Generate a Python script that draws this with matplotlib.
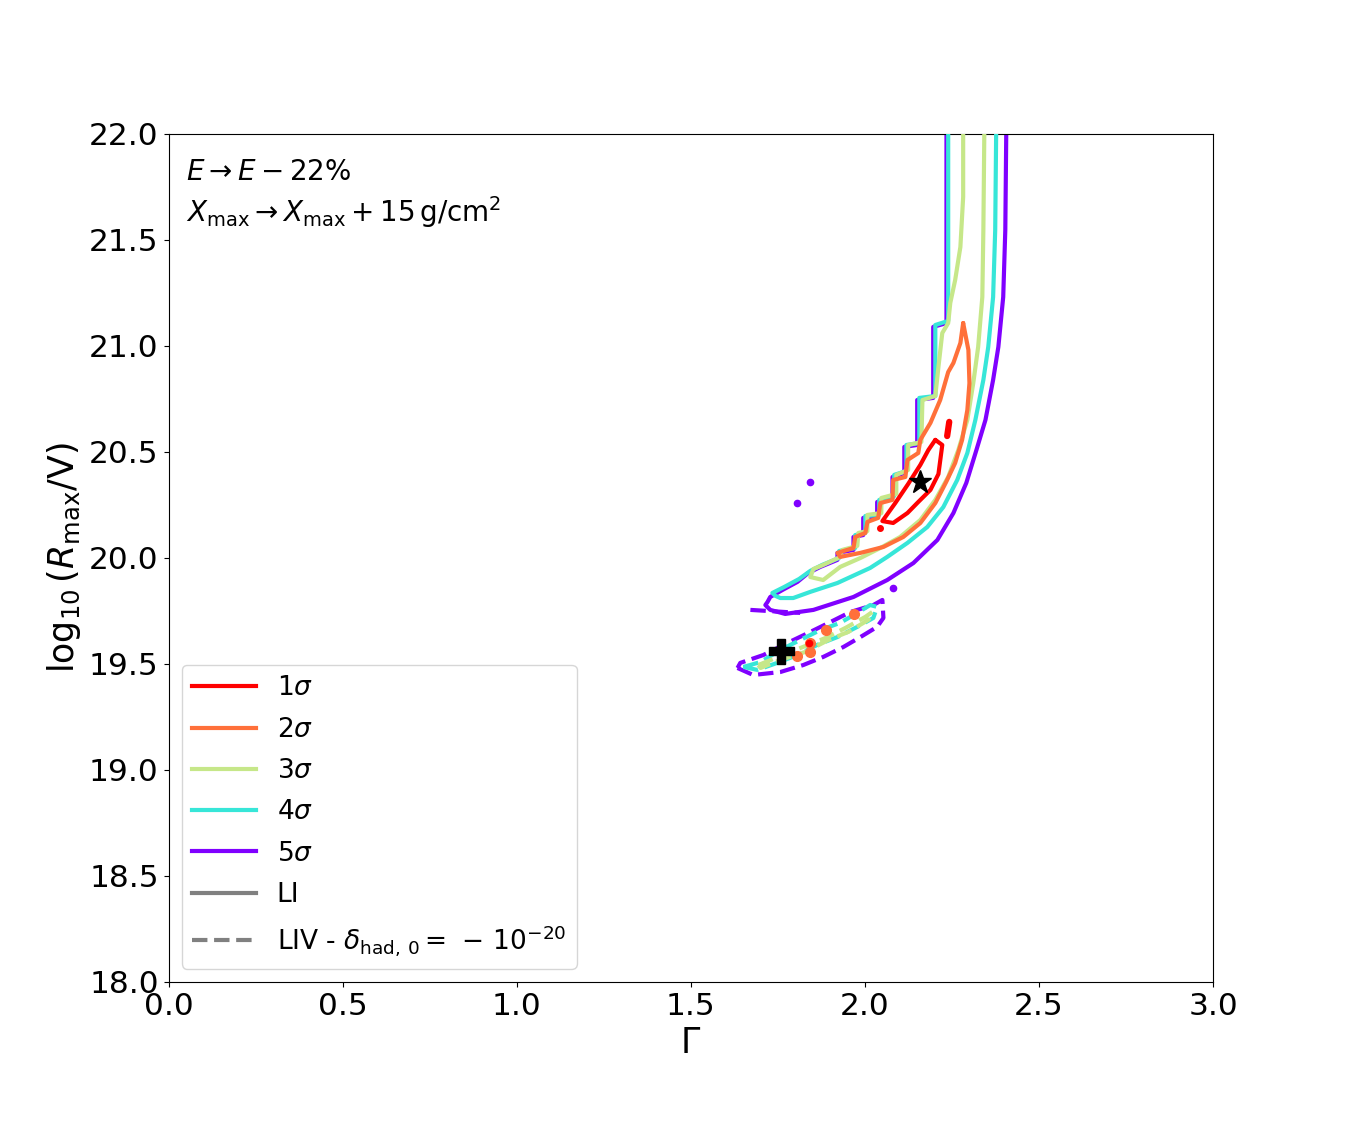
import matplotlib
matplotlib.use("Agg")
import matplotlib.pyplot as plt
from matplotlib.lines import Line2D

# ---------------- data ----------------
sigma_labels = [r"$1\sigma$", r"$2\sigma$", r"$3\sigma$", r"$4\sigma$", r"$5\sigma$"]
delta_chi2 = [2.30, 6.18, 11.83, 19.33, 28.74]

# LI (solid) contours: Gamma, log10(Rmax/V)
li_5s_x = [2.406, 2.403, 2.397, 2.383, 2.368, 2.346, 2.320, 2.291, 2.254, 2.208, 2.139, 2.064,
           1.967, 1.852, 1.771, 1.728, 1.714, 1.720, 1.728, 1.763, 1.806, 1.837, 1.872, 1.921,
           1.921, 1.967, 1.967, 1.995, 1.995, 2.035, 2.035, 2.079, 2.079, 2.113, 2.113, 2.150,
           2.150, 2.196, 2.196, 2.234, 2.234]
li_5s_y = [22.05, 21.547, 21.231, 20.995, 20.840, 20.651, 20.509, 20.354, 20.212, 20.085, 19.976,
           19.896, 19.816, 19.755, 19.736, 19.755, 19.778, 19.792, 19.816, 19.849, 19.887, 19.929,
           19.958, 19.991, 20.024, 20.038, 20.099, 20.108, 20.189, 20.193, 20.264, 20.283, 20.382,
           20.401, 20.524, 20.533, 20.745, 20.755, 21.090, 21.108, 22.05]

li_4s_x = [2.377, 2.374, 2.368, 2.354, 2.340, 2.317, 2.294, 2.265, 2.225, 2.179, 2.122, 2.064,
           2.015, 1.921, 1.843, 1.794, 1.757, 1.743, 1.734, 1.768, 1.811, 1.843, 1.877, 1.926,
           1.926, 1.972, 1.972, 2.001, 2.001, 2.041, 2.041, 2.084, 2.084, 2.119, 2.119, 2.156,
           2.156, 2.202, 2.202, 2.239, 2.239]
li_4s_y = [22.05, 21.547, 21.231, 20.995, 20.840, 20.651, 20.495, 20.368, 20.240, 20.146, 20.071,
           20.005, 19.953, 19.882, 19.840, 19.811, 19.811, 19.821, 19.835, 19.863, 19.901, 19.939,
           19.967, 20.000, 20.033, 20.047, 20.108, 20.118, 20.198, 20.203, 20.274, 20.292, 20.392,
           20.410, 20.533, 20.542, 20.755, 20.764, 21.099, 21.118, 22.05]

li_3s_x = [2.343, 2.340, 2.337, 2.325, 2.311, 2.294, 2.268, 2.239, 2.202, 2.159, 2.101, 2.044,
           1.987, 1.929, 1.880, 1.843, 1.852, 1.880, 1.929, 1.935, 1.978, 1.981, 2.007, 2.007,
           2.047, 2.047, 2.090, 2.090, 2.124, 2.124, 2.162, 2.165, 2.202, 2.211, 2.222, 2.239,
           2.245, 2.259, 2.274, 2.282, 2.282]
li_3s_y = [22.05, 21.547, 21.231, 20.995, 20.825, 20.651, 20.509, 20.382, 20.274, 20.179, 20.099,
           20.047, 20.000, 19.958, 19.896, 19.910, 19.948, 19.967, 20.005, 20.038, 20.057, 20.118,
           20.127, 20.203, 20.212, 20.283, 20.302, 20.392, 20.415, 20.533, 20.547, 20.745, 20.764,
           20.901, 21.061, 21.108, 21.203, 21.311, 21.467, 21.703, 22.05]

li_2s_x = [2.282, 2.297, 2.300, 2.294, 2.279, 2.259, 2.233, 2.202, 2.159, 2.110, 2.053, 1.987,
           1.929, 1.921, 1.967, 1.972, 2.001, 2.007, 2.038, 2.044, 2.079, 2.081, 2.116, 2.122,
           2.153, 2.159, 2.188, 2.216, 2.239, 2.254, 2.274, 2.282]
li_2s_y = [21.108, 20.981, 20.825, 20.698, 20.557, 20.448, 20.358, 20.259, 20.165, 20.099, 20.052,
           20.024, 20.005, 20.024, 20.047, 20.099, 20.118, 20.170, 20.189, 20.259, 20.274, 20.368,
           20.382, 20.462, 20.495, 20.557, 20.637, 20.745, 20.877, 20.920, 21.014, 21.108]

li_1s_x = [2.202, 2.222, 2.211, 2.188, 2.153, 2.122, 2.081, 2.050, 2.087, 2.124, 2.159, 2.182, 2.202]
li_1s_y = [20.557, 20.533, 20.396, 20.321, 20.264, 20.212, 20.165, 20.174, 20.259, 20.349, 20.439,
           20.509, 20.557]

# small isolated LI islands
li_1s_blob_x = [2.236, 2.242]
li_1s_blob_y = [20.575, 20.642]
li_1s_dot_x = [2.044]
li_1s_dot_y = [20.142]
li_5s_dots_x = [1.843, 1.806, 2.081]
li_5s_dots_y = [20.358, 20.259, 19.858]

# LIV (dashed) contours
liv_5s_x = [1.634, 1.679, 1.757, 1.823, 1.880, 1.938, 1.987, 2.035, 2.053, 2.050, 2.024, 1.958,
            1.901, 1.843, 1.777, 1.708, 1.642, 1.634]
liv_5s_y = [19.481, 19.448, 19.462, 19.495, 19.533, 19.580, 19.627, 19.675, 19.717, 19.802, 19.778,
            19.745, 19.698, 19.651, 19.599, 19.542, 19.505, 19.481]
liv_5s_tip_x = [1.671, 1.771, 1.814]
liv_5s_tip_y = [19.755, 19.745, 19.741]

liv_4s_x = [1.651, 1.700, 1.757, 1.814, 1.872, 1.929, 1.978, 2.015, 2.035, 2.024, 1.978, 1.921,
            1.863, 1.806, 1.748, 1.691, 1.651]
liv_4s_y = [19.486, 19.509, 19.566, 19.613, 19.660, 19.694, 19.741, 19.778, 19.769, 19.717, 19.675,
            19.627, 19.590, 19.542, 19.505, 19.472, 19.486]

liv_3s_x = [1.694, 1.743, 1.814, 1.886, 1.944, 2.001, 2.021, 2.010, 1.952, 1.895, 1.829, 1.757,
            1.700, 1.694]
liv_3s_y = [19.495, 19.528, 19.575, 19.622, 19.670, 19.722, 19.745, 19.708, 19.651, 19.613, 19.557,
            19.519, 19.481, 19.495]

liv_2s_dots_x = [1.969, 1.889, 1.843, 1.843, 1.806]
liv_2s_dots_y = [19.736, 19.660, 19.599, 19.557, 19.538]
liv_1s_dots_x = [1.840]
liv_1s_dots_y = [19.599]

# best-fit points
best_li = (2.159, 20.358)
best_liv = (1.760, 19.561)

x_ticks = [0.0, 0.5, 1.0, 1.5, 2.0, 2.5, 3.0]
y_ticks = [18.0, 18.5, 19.0, 19.5, 20.0, 20.5, 21.0, 21.5, 22.0]

# ---------------- style ----------------
cmap = plt.cm.rainbow
lo, hi = delta_chi2[0], delta_chi2[-1]
colors = [cmap(1 - (v - lo) / (hi - lo)) for v in delta_chi2]
lw = 3

fig = plt.figure(figsize=(13.48, 11.23), dpi=100)
ax = fig.add_axes([0.125, 0.1256, 0.775, 0.7551])

# LI solid contours, outer first
li_curves = [(li_5s_x, li_5s_y), (li_4s_x, li_4s_y), (li_3s_x, li_3s_y),
             (li_2s_x, li_2s_y), (li_1s_x, li_1s_y)]
for i, (cx, cy) in enumerate(li_curves):
    ax.plot(cx, cy, color=colors[4 - i], lw=lw, solid_capstyle="round", zorder=2 + i)
ax.plot(li_1s_blob_x, li_1s_blob_y, color=colors[0], lw=lw + 1.5, solid_capstyle="round", zorder=7)
ax.plot(li_1s_dot_x, li_1s_dot_y, "o", color=colors[0], ms=4, zorder=7)
ax.plot(li_5s_dots_x, li_5s_dots_y, "o", color=colors[4], ms=4.5, zorder=2)

# LIV dashed contours
ax.plot(liv_5s_x, liv_5s_y, color=colors[4], lw=lw, ls="--", zorder=2)
ax.plot(liv_5s_tip_x, liv_5s_tip_y, color=colors[4], lw=lw, ls="--", zorder=2)
ax.plot(liv_4s_x, liv_4s_y, color=colors[3], lw=lw, ls="--", zorder=3)
ax.plot(liv_3s_x, liv_3s_y, color=colors[2], lw=lw, ls="--", zorder=4)
ax.plot(liv_2s_dots_x, liv_2s_dots_y, "o", color=colors[1], ms=7, zorder=5)
ax.plot(liv_1s_dots_x, liv_1s_dots_y, "o", color=colors[0], ms=4.5, zorder=6)

# best fit markers
ax.plot([best_li[0]], [best_li[1]], marker="*", color="black", ms=17, ls="none", zorder=10)
ax.plot([best_liv[0]], [best_liv[1]], marker="P", color="black", ms=18, ls="none", zorder=10)

ax.set_xlim(0, 3)
ax.set_ylim(18, 22)
ax.set_xticks(x_ticks)
ax.set_yticks(y_ticks)
ax.set_xticklabels([f"{t:.1f}" for t in x_ticks])
ax.set_yticklabels([f"{t:.1f}" for t in y_ticks])
ax.tick_params(labelsize=22.5)
ax.set_xlabel(r"$\Gamma$", fontsize=25)
ax.set_ylabel(r"$\log_{10}(R_{\rm max}/{\rm V})$", fontsize=25)

ax.text(0.017, 0.955, r"$E \rightarrow E - 22\%$", transform=ax.transAxes,
        fontsize=20, va="center", ha="left")
ax.text(0.017, 0.908, r"$X_{\rm max} \rightarrow X_{\rm max} + 15\,{\rm g/cm^2}$",
        transform=ax.transAxes, fontsize=20, va="center", ha="left")

handles = [Line2D([], [], color=colors[i], lw=lw) for i in range(5)]
handles.append(Line2D([], [], color="grey", lw=lw))
handles.append(Line2D([], [], color="grey", lw=lw, ls="--"))
labels = sigma_labels + ["LI", r"LIV - $\delta_{\rm had,\,0} = \,-\,10^{-20}$"]
ax.legend(handles, labels, loc="lower left", fontsize=19, handlelength=2.4,
          labelspacing=0.58)

fig.savefig("out.png", dpi=100)
